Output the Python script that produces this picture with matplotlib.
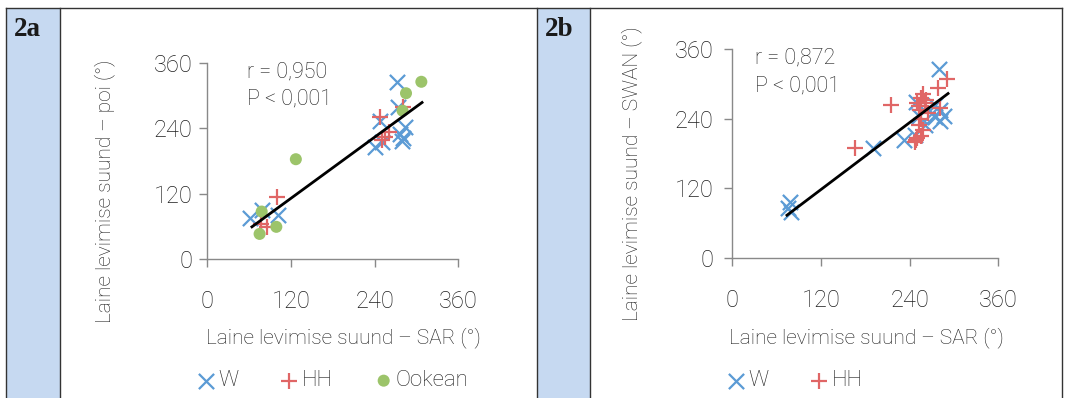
import matplotlib
matplotlib.use("Agg")
import matplotlib.pyplot as plt
from matplotlib.patches import Rectangle
from matplotlib.lines import Line2D

# ---------------- data ----------------
ticks = [0, 120, 240, 360]

# panel 2a
W_a_x = [272, 273, 248, 241, 250, 284, 277, 281, 279, 61, 101, 78]
W_a_y = [325, 278, 253, 206, 214, 242, 230, 221, 216, 75, 81, 90]
HH_a_x = [247, 260, 255, 250, 281, 100, 77, 85]
HH_a_y = [261, 233, 224, 218, 279, 113, 65, 58]
Ook_a_x = [307, 285, 280, 127, 78, 99, 75]
Ook_a_y = [325, 304, 272, 183, 87, 59, 46]
fit_a_x = [64, 308]
fit_a_y = [59, 287]

# panel 2b
W_b_x = [280, 78, 76, 80, 191, 233, 249, 274, 281, 270, 281, 274, 261, 247, 286, 252]
W_b_y = [325, 97, 86, 80, 189, 203, 269, 263, 255, 249, 235, 243, 229, 212, 245, 245]
HH_b_x = [291, 279, 215, 166, 248, 258, 250, 261, 254, 265, 256, 252, 258, 250, 247, 281, 255, 252, 262, 256]
HH_b_y = [308, 293, 263, 189, 203, 283, 266, 266, 255, 249, 240, 229, 220, 206, 199, 258, 275, 262, 272, 210]
fit_b_x = [74, 292]
fit_b_y = [74, 283]

# ---------------- style ----------------
W_PX, H_PX = 1067, 398
BLUE = "#5B9BD5"
RED = "#E06666"
GREEN = "#9CC46A"
AXCOL = "#898989"
TXT = "#1e1e1e"
STRIP = "#C6D9F1"
FS_TICK = 17
FS_ANN = 15.5
FS_LEG = 16
FS_LAB = 15

plt.rcParams["font.family"] = ["Roboto", "DejaVu Sans"]
plt.rcParams["font.weight"] = "light"

fig = plt.figure(figsize=(W_PX / 100, H_PX / 100), dpi=100)
fig.patch.set_facecolor("white")


def fx(px):
    return px / W_PX


def fy(py):
    return 1 - py / H_PX


# table frame / strips
for x0, x1 in [(6, 60), (537, 590)]:
    fig.patches.append(Rectangle((fx(x0), 0), fx(x1) - fx(x0), fy(8), transform=fig.transFigure,
                                 facecolor=STRIP, edgecolor="none", zorder=0))
for xv in [6, 60, 537, 590, 1062]:
    fig.add_artist(Line2D([fx(xv), fx(xv)], [0, fy(8)], transform=fig.transFigure, color="#333333", lw=1.0))
fig.add_artist(Line2D([fx(6), fx(1062)], [fy(8), fy(8)], transform=fig.transFigure, color="#333333", lw=1.0))

fig.text(fx(14), fy(36), "2a", family="Liberation Serif", weight="bold", fontsize=19.5, color="#1a1a1a")
fig.text(fx(545), fy(36), "2b", family="Liberation Serif", weight="bold", fontsize=19.5, color="#1a1a1a")


def style_ax(ax, ypad):
    ax.set_xlim(0, 360)
    ax.set_ylim(0, 360)
    ax.set_xticks(ticks)
    ax.set_yticks(ticks)
    for s in ["top", "right"]:
        ax.spines[s].set_visible(False)
    for s in ["left", "bottom"]:
        ax.spines[s].set_color(AXCOL)
        ax.spines[s].set_linewidth(1.0)
    ax.tick_params(axis="both", direction="out", length=6, width=1.0, color=AXCOL,
                   labelsize=FS_TICK, labelcolor=TXT)
    ax.tick_params(axis="x", pad=16)
    ax.tick_params(axis="y", pad=ypad)
    ax.set_facecolor("none")


def scatter_sets(ax, sets):
    for xs, ys, m, c, lab in sets:
        if m == "o":
            ax.scatter(xs, ys, marker="o", s=75, color=c, edgecolors="none", label=lab, zorder=3)
        else:
            ax.scatter(xs, ys, marker=m, s=120, color=c, linewidths=1.6, label=lab, zorder=3)


def add_legend(ax, x_left, ncol):
    leg = ax.legend(loc="center left", bbox_to_anchor=(fx(x_left), fy(381)), bbox_transform=fig.transFigure,
                    ncol=ncol, frameon=False, fontsize=FS_LEG, handletextpad=0.15, columnspacing=1.9,
                    handlelength=0.8, borderpad=0, borderaxespad=0)
    for t in leg.get_texts():
        t.set_color(TXT)


# panel a
axa = fig.add_axes([fx(207.3), fy(259), fx(458.3) - fx(207.3), fy(62.7) - fy(259)])
style_ax(axa, 4.5)
scatter_sets(axa, [(W_a_x, W_a_y, "x", BLUE, "W"),
                   (HH_a_x, HH_a_y, "+", RED, "HH"),
                   (Ook_a_x, Ook_a_y, "o", GREEN, "Ookean")])
axa.plot(fit_a_x, fit_a_y, color="black", lw=2, zorder=4)
axa.text(fx(247), fy(72), "r = 0,950", transform=fig.transFigure, fontsize=FS_ANN, color=TXT, va="center")
axa.text(fx(247), fy(98.5), "P < 0,001", transform=fig.transFigure, fontsize=FS_ANN, color=TXT, va="center")
fig.text(fx(343), fy(338), "Laine levimise suund – SAR (°)", fontsize=FS_LAB, color=TXT, ha="center",
         va="center")
fig.text(fx(105), fy(191), "Laine levimise suund – poi (°)", fontsize=FS_LAB, color=TXT, ha="center",
         va="center", rotation=90)
add_legend(axa, 197, 3)

# panel b
axb = fig.add_axes([fx(732.3), fy(258.3), fx(998.3) - fx(732.3), fy(48.7) - fy(258.3)])
style_ax(axb, 7.5)
scatter_sets(axb, [(W_b_x, W_b_y, "x", BLUE, "W"),
                   (HH_b_x, HH_b_y, "+", RED, "HH")])
axb.plot(fit_b_x, fit_b_y, color="black", lw=2, zorder=4)
axb.text(fx(755), fy(57.5), "r = 0,872", transform=fig.transFigure, fontsize=FS_ANN, color=TXT, va="center")
axb.text(fx(755), fy(85.5), "P < 0,001", transform=fig.transFigure, fontsize=FS_ANN, color=TXT, va="center")
fig.text(fx(866), fy(338), "Laine levimise suund – SAR (°)", fontsize=FS_LAB, color=TXT, ha="center",
         va="center")
fig.text(fx(632), fy(174), "Laine levimise suund – SWAN (°)", fontsize=FS_LAB, color=TXT, ha="center",
         va="center", rotation=90)
add_legend(axb, 727, 2)

fig.savefig("out.png", dpi=100, facecolor="white")
